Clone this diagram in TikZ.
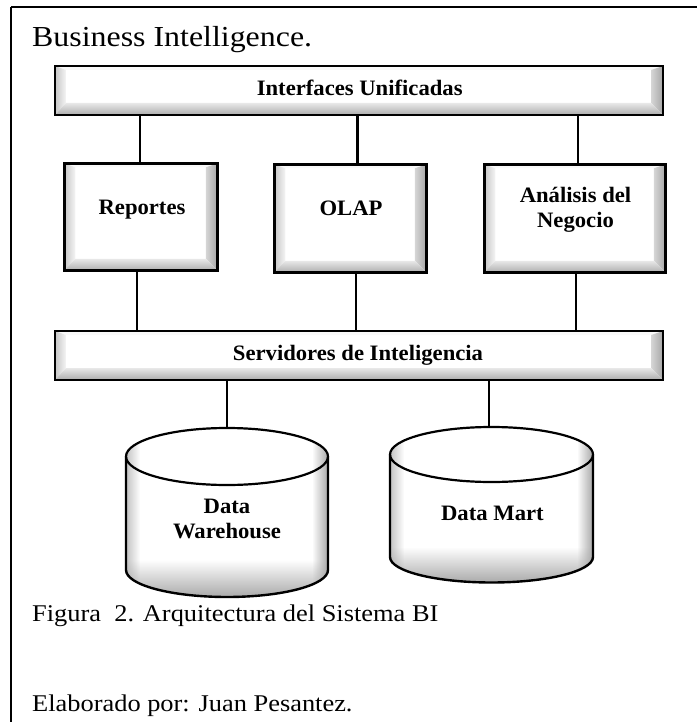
\documentclass[tikz,border=0pt]{standalone}
\usepackage{fontspec}
\setmainfont{Liberation Serif}[FakeStretch=1.1]
\newfontfamily\lblfont{Liberation Serif}[FakeStretch=1.03]
\usetikzlibrary{fadings}

% fadings used for the soft shading of the database drums
\tikzfading[name=faderight, left color=transparent!0, right color=transparent!100]
\tikzfading[name=fadeleft, left color=transparent!100, right color=transparent!0]
\tikzfading[name=fadeup, top color=transparent!100, bottom color=transparent!0]

\tikzset{
  frameline/.style={line width=2pt, draw=black},
  link/.style={line width=2.4pt, draw=black},
  lbl/.style={font=\lblfont\fontsize{22}{24.5}\selectfont\bfseries, align=center, inner sep=0pt},
  plaintext/.style={inner sep=0pt, anchor=base west},
  bevelbox/.style={draw=black, line width=2.6pt, fill=white, inner sep=0pt,
    path picture={
      \coordinate (bNW) at (path picture bounding box.north west);
      \coordinate (bNE) at (path picture bounding box.north east);
      \coordinate (bSW) at (path picture bounding box.south west);
      \coordinate (bSE) at (path picture bounding box.south east);
      \coordinate (iNW) at ([shift={(11pt,-4pt)}]bNW);
      \coordinate (iNE) at ([shift={(-12pt,-4pt)}]bNE);
      \coordinate (iSW) at ([shift={(11pt,12pt)}]bSW);
      \coordinate (iSE) at ([shift={(-12pt,12pt)}]bSE);
      \fill[gray!5] (bNW) -- (bNE) -- (iNE) -- (iNW) -- cycle;
      \shade[left color=gray!45, right color=gray!8] (bNW) -- (iNW) -- (iSW) -- (bSW) -- cycle;
      \shade[left color=gray!32, right color=gray!70] (bNE) -- (iNE) -- (iSE) -- (bSE) -- cycle;
      \shade[top color=gray!18, bottom color=gray!65] (bSW) -- (iSW) -- (iSE) -- (bSE) -- cycle;
    }},
}

% database drum: centre x, top ellipse y, bottom ellipse y, x radius, top y radius, bottom y radius
\newcommand\dbdrum[6]{%
  \begin{scope}
    \clip (#1-#4,#2) -- (#1-#4,#3)
          arc[start angle=180,end angle=360,x radius=#4pt,y radius=#6pt]
          -- (#1+#4,#2)
          arc[start angle=0,end angle=180,x radius=#4pt,y radius=#5pt] -- cycle;
    \fill[white] (#1-#4-3,#2-#5-3) rectangle (#1+#4+3,#3+#6+3);
    \fill[gray!50, path fading=faderight] (#1-#4-1,#2-#5-1) rectangle (#1-#4+14,#3+#6+1);
    \fill[gray!72, path fading=fadeleft] (#1+#4-16,#2-#5-1) rectangle (#1+#4+1,#3+#6+1);
    \fill[gray!68, path fading=fadeup] (#1-#4-1,#3-10) rectangle (#1+#4+1,#3+#6+1);
  \end{scope}
  \draw[line width=2.4pt] (#1-#4,#2) -- (#1-#4,#3)
        arc[start angle=180,end angle=360,x radius=#4pt,y radius=#6pt] -- (#1+#4,#2);
  \draw[line width=2.2pt] (#1,#2) ellipse[x radius=#4pt,y radius=#5pt];
}

\begin{document}
\begin{tikzpicture}[x=1pt,y=-1pt]
  \useasboundingbox (0,0) rectangle (697,722);

  % frame (top and left rules only)
  \draw[frameline] (11,7) -- (697,7);
  \draw[frameline] (11,7) -- (11,722);

  % heading
  \node[plaintext, font=\fontsize{29}{34}\selectfont] (title) at (32,46.5) {Business Intelligence.};

  % beveled boxes
  \node[bevelbox, minimum width=608pt, minimum height=49pt] (ifc) at (359,90.5) {};
  \node[bevelbox, minimum width=153.5pt, minimum height=107.5pt] (rep) at (141,217) {};
  \node[bevelbox, minimum width=152.5pt, minimum height=108.5pt] (olap) at (350.5,218.5) {};
  \node[bevelbox, minimum width=181.5pt, minimum height=108.5pt] (ana) at (575,218.5) {};
  \node[bevelbox, minimum width=608pt, minimum height=49pt] (srv) at (359,355.5) {};

  % box labels
  \node[lbl, anchor=base] (ifct) at (359.7,95.7) {Interfaces Unificadas};
  \node[lbl, anchor=base] (rept) at (142,214) {Reportes};
  \node[lbl, anchor=base] (olapt) at (351,215.5) {OLAP};
  \node[lbl] (anat) at (575.5,209.7) {Análisis del\\Negocio};
  \node[lbl, anchor=base] (srvt) at (358,360.5) {Servidores de Inteligencia};

  % connection points
  \coordinate (uRep) at ([xshift=-1pt]rep.north);
  \coordinate (uOlap) at ([xshift=7pt]olap.north);
  \coordinate (uAna) at ([xshift=3pt]ana.north);
  \coordinate (dRep) at ([xshift=-4pt]rep.south);
  \coordinate (dOlap) at ([xshift=5.5pt]olap.south);
  \coordinate (dAna) at ([xshift=1pt]ana.south);
  \coordinate (dwTop) at (227,428.5);
  \coordinate (dmTop) at (489,427.5);

  % connectors
  \draw[link] (ifc.south -| uRep) -- (uRep);
  \draw[link] (ifc.south -| uOlap) -- (uOlap);
  \draw[link] (ifc.south -| uAna) -- (uAna);
  \draw[link] (dRep) -- (srv.north -| dRep);
  \draw[link] (dOlap) -- (srv.north -| dOlap);
  \draw[link] (dAna) -- (srv.north -| dAna);
  \draw[link] (srv.south -| dwTop) -- (dwTop);
  \draw[link] (srv.south -| dmTop) -- (dmTop);

  % databases
  \dbdrum{227}{456.5}{570}{101}{28.5}{27}
  \dbdrum{491.5}{454.5}{557}{101.5}{27.5}{25.5}
  \node[lbl] (dw) at (227,519) {Data\\Warehouse};
  \node[lbl, anchor=base] (dm) at (492.4,520) {Data Mart};

  % caption
  \node[plaintext, font=\fontsize{24}{28}\selectfont] (cap1) at (32,621) {Figura~~2. Arquitectura del Sistema BI};
  \node[plaintext, font=\fontsize{24}{28}\selectfont] (cap2) at (32,711) {Elaborado por: Juan Pesantez.};
\end{tikzpicture}
\end{document}
